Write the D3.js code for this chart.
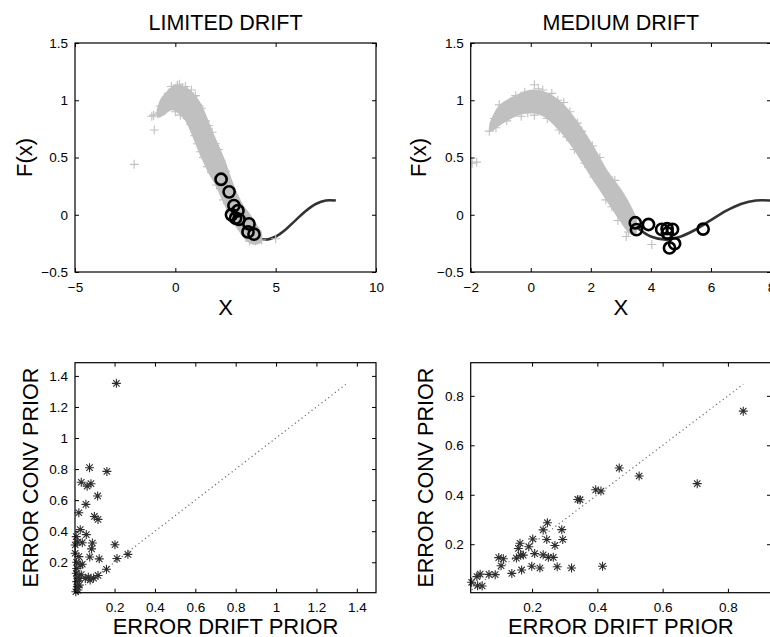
<!DOCTYPE html>
<html>
<head>
<meta charset="utf-8">
<script src="https://cdn.jsdelivr.net/npm/d3@7"></script>
<style>
  body { margin: 0; background: #fff; }
  text { font-family: "Liberation Sans", Arial, sans-serif; fill: #000; }
</style>
</head>
<body>
<script>
// ---- data ----

// dark curve F(x), same in both top panels
var curveX = [3, 3.5, 4, 4.5, 5, 5.5, 6, 6.5, 7, 7.5, 8];
var curveY = [0.05, -0.10, -0.19, -0.217, -0.19, -0.128, -0.047, 0.033, 0.094, 0.125, 0.124];

// LIMITED DRIFT: envelope of the dense gray + cloud
var tlBandX  = [-0.8, -0.6, -0.3, 0, 0.3, 0.6, 0.9, 1.2, 1.5, 1.8, 2.1, 2.4, 2.7, 3.0, 3.3, 3.6, 3.9, 4.2];
var tlBandHi = [0.92, 1.01, 1.07, 1.11, 1.11, 1.08, 1.03, 0.95, 0.83, 0.70, 0.58, 0.45, 0.30, 0.17, 0.07, 0.0, -0.08, -0.16];
var tlBandLo = [0.87, 0.89, 0.93, 0.93, 0.89, 0.83, 0.72, 0.59, 0.47, 0.36, 0.27, 0.15, 0.04, -0.06, -0.14, -0.21, -0.24, -0.23];
// LIMITED DRIFT: single + markers at the edge of the cloud
var tlPlusX = [-2.05, -1.05, -1.08, -1.17, -0.9, -0.78, -0.75, -0.58, -0.5, -0.35, -0.1, 0.1, 0.35, 0.6, 0.9, 1.2, 0.25, 0.6, 1.83, 1.5, 2.0, 2.3, 1.1, 1.4, 1.8, 4.3, 5.0, 4.0, 3.7,
               -0.2, 0.2, 0.5, 0.8, 1.0, 1.3, 1.65, 2.15, 2.5, 0.0, 0.45, 0.75, 0.95, 1.25, 1.6, 2.05, 2.4, 2.75, 3.1];
var tlPlusY = [0.44, 0.74, 0.87, 0.86, 0.88, 0.89, 0.95, 0.95, 1.0, 1.06, 1.1, 1.13, 1.11, 1.08, 1.03, 0.95, 0.87, 0.84, 0.72, 0.82, 0.62, 0.47, 0.62, 0.5, 0.37, -0.22, -0.21, -0.23, -0.23,
               1.12, 1.14, 1.12, 1.09, 1.04, 0.93, 0.78, 0.57, 0.38, 0.9, 0.87, 0.79, 0.69, 0.55, 0.42, 0.26, 0.13, 0.02, -0.09];
// LIMITED DRIFT: circles
var tlCircX = [2.28, 2.68, 2.92, 3.12, 2.8, 3.0, 3.17, 3.67, 3.62, 3.92];
var tlCircY = [0.31, 0.20, 0.08, 0.035, 0.0, -0.03, -0.04, -0.08, -0.15, -0.17];

// MEDIUM DRIFT
var trBandX  = [-1.3, -1.0, -0.5, 0, 0.5, 1.0, 1.5, 2.0, 2.5, 3.0, 3.3, 3.45];
var trBandHi = [0.79, 0.94, 1.02, 1.07, 1.05, 0.96, 0.80, 0.60, 0.37, 0.19, 0.05, -0.04];
var trBandLo = [0.75, 0.81, 0.88, 0.91, 0.87, 0.75, 0.58, 0.37, 0.17, -0.03, -0.14, -0.16];
var trPlusX = [-1.95, -1.8, -1.38, -1.16, -1.21, -0.93, -0.7, 0.12, -0.2, 0.4, 0.12, -0.32, 0.9, 1.3, 1.7, 2.3, 2.8, 3.0, 3.2, 3.18, 4.03, 1.2, 1.8, 2.5, 2.9, 3.35,
               -1.05, -0.5, 0.25, 0.7, 1.1, 1.55, 2.05, 2.6, 3.1, -0.8, -0.1, 0.55, 0.95, 1.45, 2.1, 2.7, 3.25];
var trPlusY = [0.45, 0.46, 0.73, 0.76, 0.84, 0.90, 0.97, 1.135, 1.07, 1.09, 0.87, 0.86, 1.0, 0.9, 0.73, 0.5, 0.3, 0.12, -0.02, -0.19, -0.26, 0.68, 0.45, 0.13, -0.05, -0.12,
               0.96, 1.04, 1.1, 1.06, 0.98, 0.8, 0.6, 0.33, 0.12, 0.82, 0.89, 0.84, 0.74, 0.57, 0.33, 0.07, -0.15];
var trCircX = [3.48, 3.52, 3.92, 4.36, 4.54, 4.72, 4.55, 4.79, 4.62, 5.74];
var trCircY = [-0.07, -0.13, -0.085, -0.128, -0.122, -0.128, -0.16, -0.253, -0.29, -0.125];

// bottom left: error drift prior vs error conv prior
var blDrift = [0.209, 0.076, 0.162, 0.035, 0.064, 0.083, 0.116, 0.058, 0.023, 0.1, 0.118, 0.03, 0.06, 0.01, 0.017, 0.04, 0.09, 0.086, 0.202, 0.077, 0.023, 0.124, 0.212, 0.266, 0.04, 0.013, 0.16, 0.118, 0.096, 0.07, 0.055, 0.079, 0.026, 0.01, 0.013, 0.025, 0.016, 0.018, 0.008, 0.005, 0.005, 0.03, 0.012, 0.035, 0.02];
var blConv  = [1.352, 0.809, 0.785, 0.715, 0.69, 0.706, 0.627, 0.573, 0.519, 0.495, 0.476, 0.41, 0.378, 0.365, 0.33, 0.326, 0.324, 0.286, 0.313, 0.234, 0.236, 0.222, 0.224, 0.251, 0.187, 0.16, 0.155, 0.115, 0.098, 0.104, 0.096, 0.086, 0.096, 0.129, 0.075, 0.053, 0.043, 0.021, 0.01, 0.258, 0.311, 0.182, 0.2, 0.12, 0.1];

// bottom right
var brDrift = [0.847, 0.706, 0.528, 0.467, 0.395, 0.411, 0.347, 0.34, 0.247, 0.234, 0.291, 0.202, 0.245, 0.294, 0.163, 0.27, 0.19, 0.158, 0.208, 0.173, 0.234, 0.25, 0.265, 0.152, 0.098, 0.112, 0.105, 0.168, 0.199, 0.224, 0.277, 0.321, 0.416, 0.138, 0.068, 0.087, 0.041, 0.031, 0.015, 0.033, 0.047, 0.165];
var brConv  = [0.738, 0.445, 0.476, 0.508, 0.42, 0.415, 0.38, 0.381, 0.287, 0.258, 0.259, 0.221, 0.219, 0.219, 0.204, 0.195, 0.19, 0.183, 0.162, 0.156, 0.157, 0.147, 0.147, 0.144, 0.146, 0.141, 0.113, 0.096, 0.111, 0.104, 0.109, 0.104, 0.111, 0.082, 0.078, 0.077, 0.079, 0.069, 0.046, 0.032, 0.031, 0.155];

var topXTicksL = [-5, 0, 5, 10];
var topXTicksR = [-2, 0, 2, 4, 6, 8];
var topYTicks  = [-0.5, 0, 0.5, 1, 1.5];
var blTicks = [0.2, 0.4, 0.6, 0.8, 1, 1.2, 1.4];
var brTicks = [0.2, 0.4, 0.6, 0.8];

// ---- drawing ----
var svg = d3.select('body').append('svg')
  .attr('width', 770)
  .attr('height', 637);

var plusColor = '#c0c0c0';
var starColor = '#2e2e2e';

// set up one axes box with inward ticks on all four sides
function makeAxes(x0, x1, y0, y1, xdom, ydom, xticks, yticks) {
  var xs = d3.scaleLinear().domain(xdom).range([x0, x1]);
  var ys = d3.scaleLinear().domain(ydom).range([y1, y0]);
  var f = d3.format('');

  svg.append('g')
    .attr('transform', 'translate(0,' + y1 + ')')
    .call(d3.axisBottom(xs).tickValues(xticks).tickFormat(f).tickSizeInner(-4).tickSizeOuter(0).tickPadding(10))
    .call(g => g.select('.domain').remove());
  svg.append('g')
    .attr('transform', 'translate(0,' + y0 + ')')
    .call(d3.axisTop(xs).tickValues(xticks).tickFormat('').tickSizeInner(-4).tickSizeOuter(0))
    .call(g => g.select('.domain').remove());
  svg.append('g')
    .attr('transform', 'translate(' + x0 + ',0)')
    .call(d3.axisLeft(ys).tickValues(yticks).tickFormat(f).tickSizeInner(-4).tickSizeOuter(0).tickPadding(7))
    .call(g => g.select('.domain').remove());
  svg.append('g')
    .attr('transform', 'translate(' + x1 + ',0)')
    .call(d3.axisRight(ys).tickValues(yticks).tickFormat('').tickSizeInner(-4).tickSizeOuter(0))
    .call(g => g.select('.domain').remove());

  svg.selectAll('.tick text').style('font-size', '13.5px').attr('fill', '#000');
  svg.selectAll('.tick line').attr('stroke', '#000');

  return {x: xs, y: ys, x0: x0, x1: x1, y0: y0, y1: y1};
}

function frame(a) {
  svg.append('rect')
    .attr('x', a.x0).attr('y', a.y0)
    .attr('width', a.x1 - a.x0).attr('height', a.y1 - a.y0)
    .attr('fill', 'none').attr('stroke', '#000').attr('stroke-width', 1.2);
}

function clipFor(a, id) {
  svg.append('clipPath').attr('id', id)
    .append('rect').attr('x', a.x0).attr('y', a.y0)
    .attr('width', a.x1 - a.x0).attr('height', a.y1 - a.y0);
  return svg.append('g').attr('clip-path', 'url(#' + id + ')');
}

function topPanel(a, id, bandX, bandLo, bandHi, plusX, plusY, circX, circY) {
  var g = clipFor(a, id);

  // curve underneath the cloud
  var line = d3.line().x(d => a.x(d[0])).y(d => a.y(d[1])).curve(d3.curveCatmullRom);
  g.append('path')
    .datum(d3.zip(curveX, curveY))
    .attr('d', line)
    .attr('fill', 'none')
    .attr('stroke', '#333')
    .attr('stroke-width', 2.6);

  // dense cloud of + markers
  var area = d3.area()
    .x(d => a.x(d[0])).y0(d => a.y(d[1])).y1(d => a.y(d[2]))
    .curve(d3.curveCatmullRom);
  g.append('path')
    .datum(d3.zip(bandX, bandLo, bandHi))
    .attr('d', area)
    .attr('fill', plusColor)
    .attr('stroke', plusColor)
    .attr('stroke-width', 5)
    .attr('stroke-linejoin', 'round');

  g.selectAll('.plus')
    .data(d3.zip(plusX, plusY))
    .enter()
    .append('path')
    .attr('d', 'M-4.5,0H4.5M0,-4.5V4.5')
    .attr('transform', d => 'translate(' + a.x(d[0]) + ',' + a.y(d[1]) + ')')
    .attr('stroke', plusColor)
    .attr('stroke-width', 1.1);

  g.selectAll('.circ')
    .data(d3.zip(circX, circY))
    .enter()
    .append('circle')
    .attr('cx', d => a.x(d[0]))
    .attr('cy', d => a.y(d[1]))
    .attr('r', 5.6)
    .attr('fill', 'none')
    .attr('stroke', '#000')
    .attr('stroke-width', 2.6);

  frame(a);
}

function bottomPanel(a, id, xs, ys) {
  var g = clipFor(a, id);
  var all = xs.concat(ys);
  var lo = d3.min(all), hi = d3.max(all);

  // dotted diagonal y = x
  g.append('line')
    .attr('x1', a.x(lo)).attr('y1', a.y(lo))
    .attr('x2', a.x(hi)).attr('y2', a.y(hi))
    .attr('stroke', '#6a6a6a')
    .attr('stroke-width', 1.2)
    .attr('stroke-dasharray', '1.2,3');

  svg.selectAll('.star-' + id)
    .data(d3.zip(xs, ys))
    .enter()
    .append('path')
    .attr('d', 'M-4.5,0H4.5M0,-4.5V4.5M-3.2,-3.2L3.2,3.2M-3.2,3.2L3.2,-3.2')
    .attr('transform', d => 'translate(' + a.x(d[0]) + ',' + a.y(d[1]) + ')')
    .attr('stroke', starColor)
    .attr('stroke-width', 1.1);

  frame(a);
}

var tl = makeAxes(75, 376, 43, 272, [-5, 10], [-0.5, 1.5], topXTicksL, topYTicks);
topPanel(tl, 'ctl', tlBandX, tlBandLo, tlBandHi, tlPlusX, tlPlusY, tlCircX, tlCircY);

var tr = makeAxes(470.7, 771, 43, 272, [-2, 8], [-0.5, 1.5], topXTicksR, topYTicks);
topPanel(tr, 'ctr', trBandX, trBandLo, trBandHi, trPlusX, trPlusY, trCircX, trCircY);

var bl = makeAxes(75, 376, 362.7, 592.7, [0.004, 1.495], [0.004, 1.485], blTicks, blTicks);
bottomPanel(bl, 'cbl', blDrift, blConv);

var br = makeAxes(470.7, 771, 362.7, 592.7, [0.012, 0.932], [0.004, 0.934], brTicks, brTicks);
bottomPanel(br, 'cbr', brDrift, brConv);

// titles and axis labels
function label(txt, x, y, size, rot) {
  svg.append('text')
    .attr('text-anchor', 'middle')
    .attr('transform', 'translate(' + x + ',' + y + ')' + (rot ? ' rotate(-90)' : ''))
    .style('font-size', size + 'px')
    .text(txt);
}

label('LIMITED DRIFT', 225.5, 30, 21.5);
label('MEDIUM DRIFT', 620.8, 30, 21.5);
label('X', 225.5, 315, 22);
label('X', 620.8, 315, 22);
label('F(x)', 32, 157.5, 22, true);
label('F(x)', 426, 157.5, 22, true);
label('ERROR CONV PRIOR', 38, 477.7, 21.5, true);
label('ERROR CONV PRIOR', 433, 477.7, 21.5, true);
label('ERROR DRIFT PRIOR', 225.5, 634, 22);
label('ERROR DRIFT PRIOR', 620.8, 634, 22);
</script>
</body>
</html>
